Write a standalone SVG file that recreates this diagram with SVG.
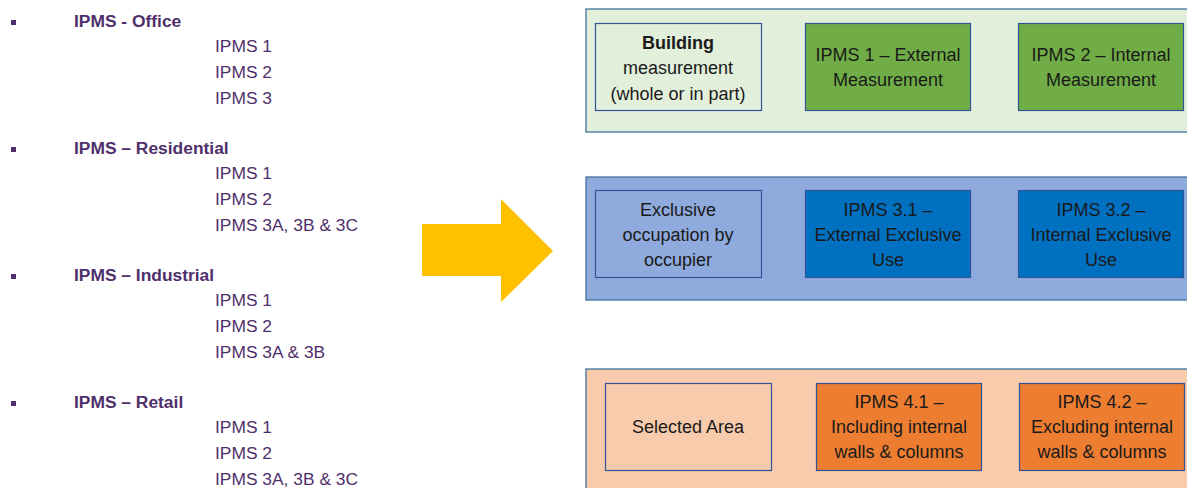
<svg xmlns="http://www.w3.org/2000/svg" width="1187" height="488" viewBox="0 0 1187 488">
<style>
.h{font-family:"Liberation Sans",Arial,sans-serif;font-weight:bold;font-size:17.4px;fill:#4f2f6b}
.s{font-family:"Liberation Sans",Arial,sans-serif;font-size:17.4px;fill:#4f2f6b}
.b{fill:#4f2f6b}
.t{font-family:"Liberation Sans",Arial,sans-serif;font-size:18px;fill:#1a1a1a;text-anchor:middle}
.pb{stroke:#41719c;stroke-width:1.3}
.bx{stroke:#2f5597;stroke-width:1.2}
</style>
<g id="list">
<rect class="b" x="11" y="20" width="5" height="5"/>
<text class="h" x="74" y="27">IPMS - Office</text>
<text class="s" x="215" y="52">IPMS 1</text>
<text class="s" x="215" y="78">IPMS 2</text>
<text class="s" x="215" y="104">IPMS 3</text>
<rect class="b" x="11" y="147" width="5" height="5"/>
<text class="h" x="74" y="154">IPMS – Residential</text>
<text class="s" x="215" y="179">IPMS 1</text>
<text class="s" x="215" y="205">IPMS 2</text>
<text class="s" x="215" y="231">IPMS 3A, 3B &amp; 3C</text>
<rect class="b" x="11" y="274" width="5" height="5"/>
<text class="h" x="74" y="281">IPMS – Industrial</text>
<text class="s" x="215" y="306">IPMS 1</text>
<text class="s" x="215" y="332">IPMS 2</text>
<text class="s" x="215" y="358">IPMS 3A &amp; 3B</text>
<rect class="b" x="11" y="401" width="5" height="5"/>
<text class="h" x="74" y="408">IPMS – Retail</text>
<text class="s" x="215" y="433">IPMS 1</text>
<text class="s" x="215" y="459">IPMS 2</text>
<text class="s" x="215" y="485">IPMS 3A, 3B &amp; 3C</text>
</g>
<g id="arrow">
<polygon points="422,224 501,224 501,199 553,251 501,302 501,276 422,276" fill="#ffc000"/>
</g>
<g id="panel1">
<rect class="pb" x="586" y="9" width="606" height="123" fill="#e2efda"/>
<rect class="bx" x="595.5" y="23.5" width="166" height="87" fill="#e2efda"/>
<text class="t" x="678" y="49" font-weight="bold">Building</text>
<text class="t" x="678" y="74">measurement</text>
<text class="t" x="678" y="100">(whole or in part)</text>
<rect class="bx" x="805.5" y="23.5" width="165" height="87" fill="#70ad47"/>
<text class="t" x="888" y="61">IPMS 1 – External</text>
<text class="t" x="888" y="86">Measurement</text>
<rect class="bx" x="1018.5" y="23.5" width="165" height="87" fill="#70ad47"/>
<text class="t" x="1101" y="61">IPMS 2 – Internal</text>
<text class="t" x="1101" y="86">Measurement</text>
</g>
<g id="panel2">
<rect class="pb" x="586" y="177" width="606" height="123" fill="#8faadc"/>
<rect class="bx" x="595.5" y="190.5" width="166" height="87" fill="#8faadc"/>
<text class="t" x="678" y="216">Exclusive</text>
<text class="t" x="678" y="241">occupation by</text>
<text class="t" x="678" y="266">occupier</text>
<rect class="bx" x="805.5" y="190.5" width="165" height="87" fill="#0070c0"/>
<text class="t" x="888" y="216">IPMS 3.1 –</text>
<text class="t" x="888" y="241">External Exclusive</text>
<text class="t" x="888" y="266">Use</text>
<rect class="bx" x="1018.5" y="190.5" width="165" height="87" fill="#0070c0"/>
<text class="t" x="1101" y="216">IPMS 3.2 –</text>
<text class="t" x="1101" y="241">Internal Exclusive</text>
<text class="t" x="1101" y="266">Use</text>
</g>
<g id="panel3">
<rect class="pb" x="586" y="369" width="606" height="130" fill="#f8cbad"/>
<rect class="bx" x="605.5" y="383.5" width="166" height="87" fill="#f8cbad"/>
<text class="t" x="688" y="433">Selected Area</text>
<rect class="bx" x="816.5" y="383.5" width="165" height="87" fill="#ed7d31"/>
<text class="t" x="899" y="408">IPMS 4.1 –</text>
<text class="t" x="899" y="433">Including internal</text>
<text class="t" x="899" y="458">walls &amp; columns</text>
<rect class="bx" x="1019.5" y="383.5" width="165" height="87" fill="#ed7d31"/>
<text class="t" x="1102" y="408">IPMS 4.2 –</text>
<text class="t" x="1102" y="433">Excluding internal</text>
<text class="t" x="1102" y="458">walls &amp; columns</text>
</g>
<g id="connectors"></g>
</svg>
